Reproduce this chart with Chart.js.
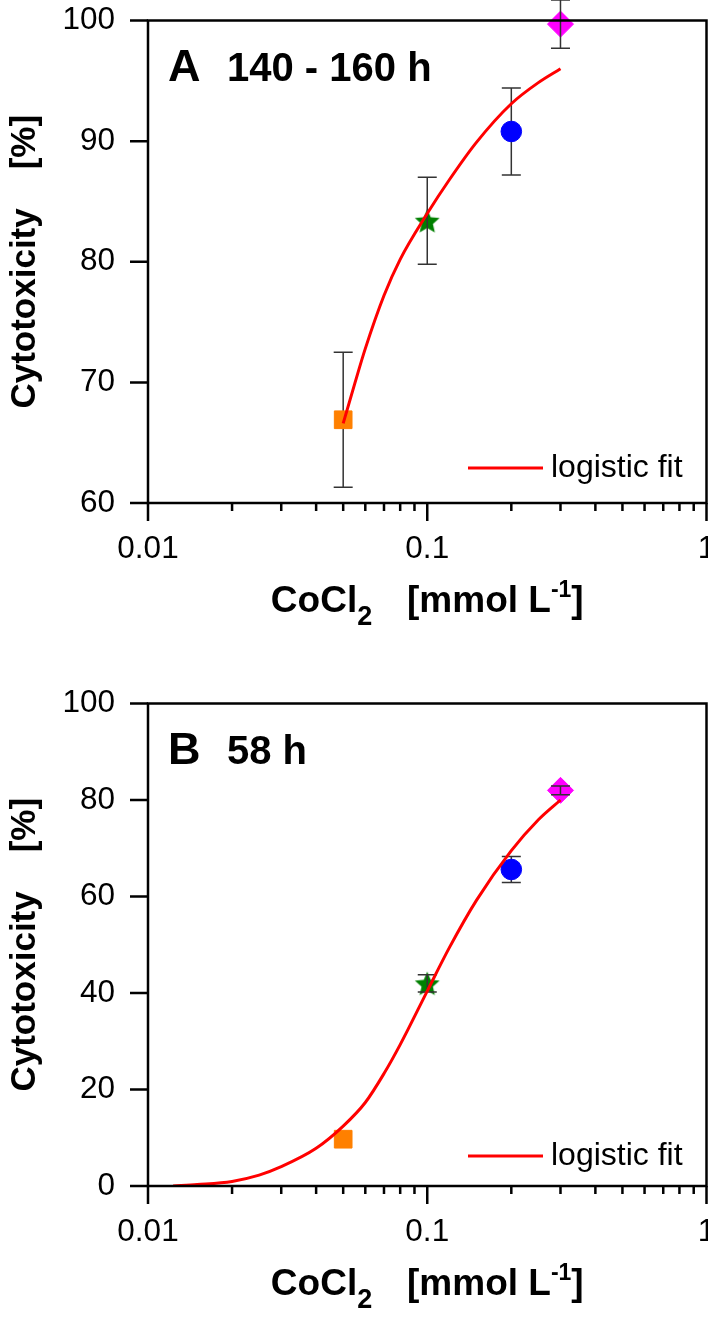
<!DOCTYPE html>
<html>
<head>
<meta charset="utf-8">
<script src="https://cdn.jsdelivr.net/npm/chart.js@4.4.1/dist/chart.umd.min.js"></script>
<style>
  html, body { margin: 0; padding: 0; background: #fff; }
  canvas { position: absolute; left: 0; }
  #chartA { top: 0; }
  #chartB { top: 683px; }
</style>
</head>
<body>
<canvas id="chartA" width="708" height="683"></canvas>
<canvas id="chartB" width="708" height="641"></canvas>
<script>
// measured points: CoCl2 concentration (mmol/L) and cytotoxicity (%) with error
const conc  = [0.05, 0.1, 0.2, 0.3];
const meanA = [66.9, 83.4, 90.8, 99.7];
const errA  = [5.6, 3.6, 3.6, 2.0];
const meanB = [9.7, 42.0, 65.6, 82.0];
const errB  = [0, 1.8, 2.7, 0.9];

// logistic fit curves
const fitAX = [0.05, 0.055, 0.06, 0.07, 0.08, 0.1, 0.12, 0.15, 0.2, 0.25, 0.3];
const fitAY = [66.6, 69.9, 72.8, 77.2, 80.2, 84.0, 86.8, 89.9, 93.1, 94.85, 96.0];
const fitBX = [0.0123, 0.015, 0.02, 0.025, 0.03, 0.04, 0.05, 0.06, 0.07, 0.08, 0.1, 0.12, 0.15, 0.2, 0.25, 0.3];
const fitBY = [0, 0.3, 0.95, 2.25, 4.0, 7.8, 12.4, 17.3, 23.3, 29.3, 40.4, 49.4, 59.2, 69.5, 75.9, 80.0];

// axes
const xMajor  = [0.01, 0.1, 1];
const xMinor  = [0.02, 0.03, 0.04, 0.05, 0.06, 0.07, 0.08, 0.09, 0.2, 0.3, 0.4, 0.5, 0.6, 0.7, 0.8, 0.9];
const yRangeA = [60, 100, 10];
const yRangeB = [0, 100, 20];

// texts
const yTitle   = 'Cytotoxicity    [%]';
const fitLabel = 'logistic fit';
const panelA   = ['A', '140 - 160 h'];
const panelB   = ['B', '58 h'];

const FONT = "'Liberation Sans', Arial, sans-serif";
const PLOT_TOP = 20.5, PLOT_BOTTOM = 503, PLOT_LEFT = 148;

function starImage(r, color) {
  const c = document.createElement('canvas');
  c.width = c.height = 2 * r + 2;
  const g = c.getContext('2d');
  g.fillStyle = color;
  g.beginPath();
  for (let i = 0; i < 10; i++) {
    const rad = i % 2 ? r * 0.46 : r;
    const ang = -Math.PI / 2 + i * Math.PI / 5;
    g.lineTo(r + 1 + rad * Math.cos(ang), r + 1 + rad * Math.sin(ang) + r * 0.1);
  }
  g.closePath();
  g.fill();
  return c;
}

const markers = [
  { style: 'rect',                   radius: 12.5, color: '#ff8000', over: false },
  { style: starImage(13, '#008000'), radius: 13,   color: '#008000', over: true },
  { style: 'circle',                 radius: 10.3, color: '#0000ff', over: false },
  { style: 'rectRot',                radius: 13,   color: '#ff00ff', over: true }
];

function drawErr(chart, meta, over) {
  const ds = chart.data.datasets[meta.index];
  if (!ds.err || !!ds.errOver !== over) return;
  const { ctx, scales: { x, y } } = chart;
  ctx.save();
  ctx.strokeStyle = '#333';
  ctx.lineWidth = 1.5;
  ds.data.forEach((p, i) => {
    const e = ds.err[i];
    if (!e) return;
    const px = x.getPixelForValue(p.x);
    const hi = y.getPixelForValue(p.y + e), lo = y.getPixelForValue(p.y - e);
    ctx.beginPath();
    ctx.moveTo(px, hi); ctx.lineTo(px, lo);
    ctx.moveTo(px - 9.5, hi); ctx.lineTo(px + 9.5, hi);
    ctx.moveTo(px - 9.5, lo); ctx.lineTo(px + 9.5, lo);
    ctx.stroke();
  });
  ctx.restore();
}

const errorBars = {
  id: 'errorBars',
  beforeDatasetDraw(chart, args) { drawErr(chart, args.meta, false); },
  afterDatasetDraw(chart, args)  { drawErr(chart, args.meta, true); }
};

const frame = {
  id: 'frame',
  afterDraw(chart) {
    const { ctx, chartArea: a, scales: { x, y } } = chart;
    ctx.save();
    ctx.strokeStyle = '#000';
    ctx.lineWidth = 2.5;
    ctx.strokeRect(a.left, a.top, a.right - a.left, a.bottom - a.top);
    ctx.beginPath();
    y.ticks.forEach(t => {
      const py = y.getPixelForValue(t.value);
      ctx.moveTo(a.left - 18, py); ctx.lineTo(a.left, py);
    });
    x.ticks.forEach(t => {
      const px = x.getPixelForValue(t.value);
      ctx.moveTo(px, a.bottom); ctx.lineTo(px, a.bottom + (xMajor.includes(t.value) ? 18 : 8));
    });
    ctx.stroke();
    ctx.restore();
  }
};

const annotate = {
  id: 'annotate',
  afterDraw(chart, args, opts) {
    const { ctx, chartArea: a } = chart;
    ctx.save();
    ctx.fillStyle = '#000';
    ctx.textBaseline = 'alphabetic';
    ctx.font = `bold 45px ${FONT}`;
    ctx.fillText(opts.panel[0], a.left + 20, a.top + 60);
    ctx.font = `bold 40px ${FONT}`;
    ctx.fillText(opts.panel[1], a.left + 79, a.top + 60);

    // legend
    const ly = a.bottom - opts.legendOffset;
    ctx.strokeStyle = '#ff0000';
    ctx.lineWidth = 3;
    ctx.beginPath();
    ctx.moveTo(a.left + 320, ly); ctx.lineTo(a.left + 395, ly);
    ctx.stroke();
    ctx.font = `32px ${FONT}`;
    ctx.textBaseline = 'middle';
    ctx.fillText(fitLabel, a.left + 403, ly);

    // x axis title with sub/superscript
    const parts = [
      { t: 'CoCl', size: 37, dy: 0 },
      { t: '2', size: 27, dy: 13, pad: 4 },
      { t: '   [mmol L', size: 37, dy: 0 },
      { t: '-1', size: 23, dy: -15 },
      { t: ']', size: 37, dy: 0 }
    ];
    ctx.textBaseline = 'alphabetic';
    let total = 0;
    parts.forEach(p => { ctx.font = `bold ${p.size}px ${FONT}`; p.w = ctx.measureText(p.t).width + (p.pad || 0); total += p.w; });
    let tx = (a.left + a.right) / 2 - total / 2;
    const base = a.bottom + 109;
    parts.forEach(p => {
      ctx.font = `bold ${p.size}px ${FONT}`;
      ctx.fillText(p.t, tx, base + p.dy);
      tx += p.w;
    });
    ctx.restore();
  }
};

function makePanel(id, mean, err, fitX, fitY, yRange, panel, legendOffset) {
  const canvas = document.getElementById(id);
  const datasets = [{
    data: fitX.map((v, i) => ({ x: v, y: fitY[i] })),
    showLine: true,
    borderColor: '#ff0000',
    borderWidth: 3,
    pointRadius: 0,
    cubicInterpolationMode: 'monotone',
    order: 0
  }];
  markers.forEach((m, i) => datasets.push({
    data: [{ x: conc[i], y: mean[i] }],
    err: [err[i]],
    errOver: m.over,
    pointStyle: m.style,
    pointRadius: m.radius,
    backgroundColor: m.color,
    borderColor: m.color,
    borderWidth: 1,
    clip: false,
    order: 1
  }));

  return new Chart(canvas, {
    type: 'scatter',
    data: { datasets },
    options: {
      responsive: false,
      animation: false,
      events: [],
      devicePixelRatio: 1,
      layout: { autoPadding: false, padding: { top: PLOT_TOP, right: 1.5, left: 0, bottom: 0 } },
      plugins: {
        legend: { display: false },
        tooltip: { enabled: false },
        annotate: { panel, legendOffset }
      },
      scales: {
        x: {
          type: 'logarithmic',
          min: 0.01, max: 1,
          afterFit: s => { s.height = s.chart.height - PLOT_BOTTOM; s.paddingLeft = 0; s.paddingRight = 0; },
          afterBuildTicks: s => {
            s.ticks = [...xMajor, ...xMinor].sort((a, b) => a - b).map(v => ({ value: v, major: xMajor.includes(v) }));
          },
          ticks: {
            autoSkip: false, maxRotation: 0, minRotation: 0,
            padding: 9, color: '#000',
            font: { family: FONT, size: 31.5 },
            callback: v => xMajor.includes(v) ? String(v) : ''
          },
          grid: { display: true, drawOnChartArea: false, drawTicks: true, tickLength: 18, tickColor: 'rgba(0,0,0,0)' },
          border: { display: false }
        },
        y: {
          min: yRange[0], max: yRange[1],
          afterFit: s => { s.width = PLOT_LEFT; s.paddingTop = 0; s.paddingBottom = 0; },
          ticks: { stepSize: yRange[2], padding: 15, color: '#000', font: { family: FONT, size: 31.5 } },
          grid: { display: true, drawOnChartArea: false, drawTicks: true, tickLength: 18, tickColor: 'rgba(0,0,0,0)' },
          border: { display: false },
          title: { display: true, text: yTitle, color: '#000', padding: { top: 4, bottom: 0 }, font: { family: FONT, size: 35, weight: 'bold' } }
        }
      }
    },
    plugins: [errorBars, frame, annotate]
  });
}

makePanel('chartA', meanA, errA, fitAX, fitAY, yRangeA, panelA, 35);
makePanel('chartB', meanB, errB, fitBX, fitBY, yRangeB, panelB, 30);
</script>
</body>
</html>
